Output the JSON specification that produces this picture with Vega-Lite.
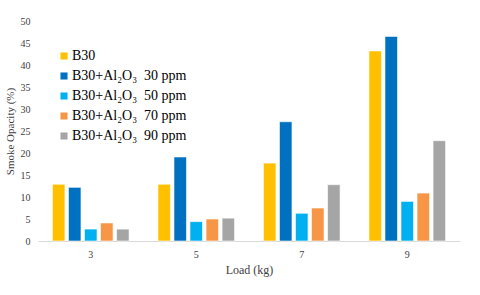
{
  "$schema": "https://vega.github.io/schema/vega-lite/v6.json",
  "autosize": "none",
  "width": 422,
  "height": 220,
  "padding": {"left": 38, "top": 21, "right": 20, "bottom": 54},
  "background": "white",
  "config": {
    "view": {"stroke": null},
    "font": "Liberation Serif",
    "axis": {"labelFont": "Liberation Serif", "titleFont": "Liberation Serif"},
    "legend": {"labelFont": "Liberation Serif"}
  },
  "data": {
    "values": [
      {"load": "3", "fuel": "B30", "opacity": 12.9},
      {"load": "3", "fuel": "B30+Al₂O₃\u00a0 30 ppm", "opacity": 12.2},
      {"load": "3", "fuel": "B30+Al₂O₃\u00a0 50 ppm", "opacity": 2.7},
      {"load": "3", "fuel": "B30+Al₂O₃\u00a0 70 ppm", "opacity": 4.1},
      {"load": "3", "fuel": "B30+Al₂O₃\u00a0 90 ppm", "opacity": 2.7},
      {"load": "5", "fuel": "B30", "opacity": 12.9},
      {"load": "5", "fuel": "B30+Al₂O₃\u00a0 30 ppm", "opacity": 19.1},
      {"load": "5", "fuel": "B30+Al₂O₃\u00a0 50 ppm", "opacity": 4.4},
      {"load": "5", "fuel": "B30+Al₂O₃\u00a0 70 ppm", "opacity": 5.0},
      {"load": "5", "fuel": "B30+Al₂O₃\u00a0 90 ppm", "opacity": 5.2},
      {"load": "7", "fuel": "B30", "opacity": 17.7},
      {"load": "7", "fuel": "B30+Al₂O₃\u00a0 30 ppm", "opacity": 27.1},
      {"load": "7", "fuel": "B30+Al₂O₃\u00a0 50 ppm", "opacity": 6.3},
      {"load": "7", "fuel": "B30+Al₂O₃\u00a0 70 ppm", "opacity": 7.5},
      {"load": "7", "fuel": "B30+Al₂O₃\u00a0 90 ppm", "opacity": 12.8},
      {"load": "9", "fuel": "B30", "opacity": 43.2},
      {"load": "9", "fuel": "B30+Al₂O₃\u00a0 30 ppm", "opacity": 46.5},
      {"load": "9", "fuel": "B30+Al₂O₃\u00a0 50 ppm", "opacity": 9.0},
      {"load": "9", "fuel": "B30+Al₂O₃\u00a0 70 ppm", "opacity": 10.9},
      {"load": "9", "fuel": "B30+Al₂O₃\u00a0 90 ppm", "opacity": 22.8}
    ]
  },
  "mark": {"type": "bar", "stroke": "white", "strokeWidth": 0.6},
  "encoding": {
    "x": {
      "field": "load", "type": "nominal",
      "scale": {"paddingInner": 0, "paddingOuter": 0},
      "axis": {
        "title": "Load (kg)", "labelAngle": 0, "ticks": false,
        "domainColor": "#d9d9d9", "labelPadding": 8,
        "labelFontSize": 10, "labelColor": "#404040",
        "titleFontSize": 12, "titleFontWeight": "normal", "titleColor": "#404040",
        "titlePadding": 5
      }
    },
    "xOffset": {
      "field": "fuel", "type": "nominal",
      "scale": {"paddingInner": 0.22, "paddingOuter": 0.9}
    },
    "y": {
      "field": "opacity", "type": "quantitative",
      "scale": {"domain": [0, 50]},
      "axis": {
        "title": "Smoke Opacity (%)", "values": [0, 5, 10, 15, 20, 25, 30, 35, 40, 45, 50],
        "labelOverlap": false,
        "grid": false, "domain": false, "ticks": false, "labelPadding": 8,
        "labelFontSize": 10, "labelColor": "#404040",
        "titleFontSize": 11, "titleFontWeight": "normal", "titleColor": "#404040",
        "titlePadding": 5
      }
    },
    "color": {
      "field": "fuel", "type": "nominal",
      "scale": {"range": ["#FFC000", "#0070C0", "#00B0F0", "#F79646", "#A5A5A5"]},
      "legend": {
        "title": null, "orient": "none", "legendX": 19, "legendY": 28,
        "symbolType": "square", "symbolSize": 50, "symbolStrokeWidth": 0,
        "labelFontSize": 14, "labelColor": "#000000", "labelOffset": 1,
        "rowPadding": 6, "labelLimit": 300
      }
    }
  }
}
